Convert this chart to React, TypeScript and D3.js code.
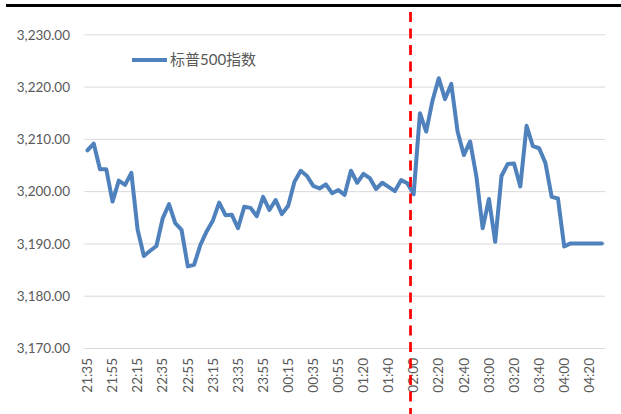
import React from "react";
import * as d3 from "d3";

// 5-minute timestamps (01:00 bar absent in the feed)
const times: string[] = [
  "21:35", "21:40", "21:45", "21:50", "21:55", "22:00", "22:05", "22:10", "22:15", "22:20",
  "22:25", "22:30", "22:35", "22:40", "22:45", "22:50", "22:55", "23:00", "23:05", "23:10",
  "23:15", "23:20", "23:25", "23:30", "23:35", "23:40", "23:45", "23:50", "23:55", "00:00",
  "00:05", "00:10", "00:15", "00:20", "00:25", "00:30", "00:35", "00:40", "00:45", "00:50",
  "00:55", "01:05", "01:10", "01:15", "01:20", "01:25", "01:30", "01:35", "01:40", "01:45",
  "01:50", "01:55", "02:00", "02:05", "02:10", "02:15", "02:20", "02:25", "02:30", "02:35",
  "02:40", "02:45", "02:50", "02:55", "03:00", "03:05", "03:10", "03:15", "03:20", "03:25",
  "03:30", "03:35", "03:40", "03:45", "03:50", "03:55", "04:00", "04:05", "04:10", "04:15",
  "04:20", "04:25", "04:30",
];

// S&P 500 index level
const spx: number[] = [
  3207.9, 3209.2, 3204.3, 3204.3, 3198.1, 3202.1, 3201.3, 3203.6, 3192.7, 3187.7,
  3188.7, 3189.6, 3194.9, 3197.6, 3194.0, 3192.7, 3185.7, 3186.0, 3189.8, 3192.4,
  3194.5, 3197.9, 3195.5, 3195.6, 3193.0, 3197.1, 3196.9, 3195.3, 3199.0, 3196.5,
  3198.4, 3195.7, 3197.3, 3201.9, 3204.0, 3203.0, 3201.1, 3200.6, 3201.4, 3199.7,
  3200.3, 3199.4, 3204.0, 3201.7, 3203.4, 3202.6, 3200.5, 3201.7, 3200.9, 3200.1,
  3202.2, 3201.6, 3199.5, 3215.0, 3211.5, 3217.4, 3221.7, 3217.7, 3220.6, 3211.5,
  3207.0, 3209.6, 3202.9, 3193.0, 3198.6, 3190.4, 3203.0, 3205.3, 3205.4, 3201.0,
  3212.6, 3208.7, 3208.3, 3205.5, 3199.0, 3198.7, 3189.5, 3190.1, 3190.1, 3190.1,
  3190.1, 3190.1, 3190.1,
];

const yTicks: number[] = [3170, 3180, 3190, 3200, 3210, 3220, 3230];
const seriesName = "标普500指数";
const markerTime = "02:00";

const W = 621;
const H = 414;
const plot = { left: 84.3, right: 605, top: 34.8, bottom: 348.5 };
const font = "Lato, 'Open Sans', 'Noto Sans CJK SC', sans-serif";

export default function App() {
  const x = d3
    .scaleBand<string>()
    .domain(times)
    .range([plot.left, plot.right])
    .paddingInner(0)
    .paddingOuter(0);
  const y = d3.scaleLinear().domain([3170, 3230]).range([plot.bottom, plot.top]);

  const line = d3
    .line<number>()
    .x((_, i) => (x(times[i]) as number) + x.bandwidth() / 2)
    .y((d) => y(d));

  const fmt = d3.format(",.2f");
  const labelTimes = times.filter((_, i) => i % 4 === 0);
  const markerX = x(markerTime) as number;

  return (
    <svg
      width={W}
      height={H}
      style={{ position: "absolute", left: 0, top: 0, background: "#fff" }}
      fontFamily={font}
    >
      <rect x={0} y={0} width={W} height={H} fill="#fff" />
      <line x1={6} x2={W} y1={5.5} y2={5.5} stroke="#000" strokeWidth={3} />

      {yTicks.map((t) => (
        <g key={t}>
          <line
            x1={plot.left}
            x2={plot.right}
            y1={y(t)}
            y2={y(t)}
            stroke="#d9d9d9"
            strokeWidth={1}
          />
          <text
            x={70}
            y={y(t)}
            dy="0.35em"
            textAnchor="end"
            fontSize={13.5}
            fill="#595959"
          >
            {fmt(t)}
          </text>
        </g>
      ))}

      {labelTimes.map((t) => {
        const cx = (x(t) as number) + x.bandwidth() / 2;
        return (
          <text
            key={t}
            transform={`translate(${cx},${358}) rotate(-90)`}
            dy="0.35em"
            textAnchor="end"
            fontSize={13.5}
            fill="#595959"
          >
            {t}
          </text>
        );
      })}

      <path
        d={line(spx) ?? ""}
        fill="none"
        stroke="#4f81bd"
        strokeWidth={4}
        strokeLinejoin="round"
        strokeLinecap="round"
      />

      <line
        x1={markerX}
        x2={markerX}
        y1={12}
        y2={H}
        stroke="#ff0000"
        strokeWidth={2.75}
        strokeDasharray="10 6.5"
      />

      <g transform="translate(132,60)">
        <line x1={0} x2={35} y1={0} y2={0} stroke="#4f81bd" strokeWidth={4} />
        <text x={38} y={0} dy="0.35em" fontSize={15} fill="#595959">
          {seriesName}
        </text>
      </g>
    </svg>
  );
}
